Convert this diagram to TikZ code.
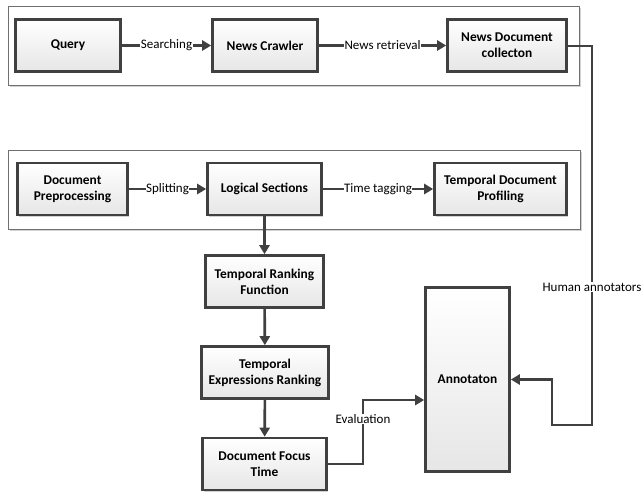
\documentclass[tikz,border=0pt]{standalone}
\usepackage{fontspec}
\setmainfont{Carlito}
\usetikzlibrary{arrows.meta,shadows}
\definecolor{lc}{HTML}{404040}
\definecolor{boxbot}{HTML}{E6E6E6}
\definecolor{cont}{HTML}{707070}
\begin{document}
\begin{tikzpicture}[x=1pt,y=-1pt,
  box/.style={draw=lc, line width=2.6pt, top color=white, bottom color=boxbot,
    drop shadow={shadow xshift=1.6pt,shadow yshift=-1.6pt,fill=black!25,opacity=0.7},
    font=\bfseries\fontsize{13.4}{16}\selectfont, align=center, inner sep=0pt,
    minimum height=52pt},
  container/.style={draw=cont, line width=0.8pt, fill=white,
    drop shadow={shadow xshift=1.6pt,shadow yshift=-1.6pt,fill=black!25,opacity=0.7}},
  conn/.style={draw=lc, line width=2.6pt, -{Triangle[length=9pt,width=10pt]}},
  lab/.style={fill=white, inner sep=0.5pt, font=\fontsize{13}{15}\selectfont}
]
\useasboundingbox (0,0) rectangle (641,493);
% containers
\draw[container] (8,6) rectangle (579,85);
\draw[container] (8,150.5) rectangle (580,229);
% boxes
\node[box, minimum width=105pt] (q) at (68,45.5) {Query};
\node[box, minimum width=105pt] (nc) at (265,45.5) {News Crawler};
\node[box, minimum width=119pt] (ndc) at (507,45.5) {News Document\\collecton};
\node[box, minimum width=110pt] (dp) at (72.5,189) {Document\\Preprocessing};
\node[box, minimum width=114pt] (ls) at (264.5,189) {Logical Sections};
\node[box, minimum width=132pt] (tdp) at (500.5,189) {Temporal Document\\Profiling};
\node[box, minimum width=118pt] (trf) at (264.5,281.5) {Temporal Ranking\\Function};
\node[box, minimum width=127pt] (ter) at (265,372.5) {Temporal\\Expressions Ranking};
\node[box, minimum width=124pt] (dft) at (264.5,464) {Document Focus\\Time};
\node[box, minimum width=84pt, minimum height=184pt] (ann) at (467.5,379.5) {Annotaton};
% coordinates
\coordinate (h1) at (592,46);
\coordinate (h2) at (592,425);
\coordinate (h3) at (552,425);
\coordinate (h4) at (552,379.5);
\coordinate (e1) at (363,464);
\coordinate (e2) at (363,400);
\coordinate (e3) at (425,400);
% connectors
\draw[conn] (q) -- node[lab]{Searching} (nc);
\draw[conn] (nc) -- node[lab]{News retrieval} (ndc);
\draw[conn] (dp) -- node[lab]{Splitting} (ls);
\draw[conn] (ls) -- node[lab]{Time tagging} (tdp);
\draw[conn] (ls) -- (trf);
\draw[conn] (trf) -- (ter);
\draw[conn] (ter) -- (dft);
\draw[conn] (ndc.east |- h1) -- (h1) -- (h2) -- (h3) -- (h4) -- (ann.east |- h4);
\node[lab] (hl) at (592,287) {Human annotators};
\draw[conn] (dft.east |- e1) -- (e1) -- (e2) -- (ann.west |- e3);
\node[lab] (el) at (363,419) {Evaluation};
\end{tikzpicture}
\end{document}
